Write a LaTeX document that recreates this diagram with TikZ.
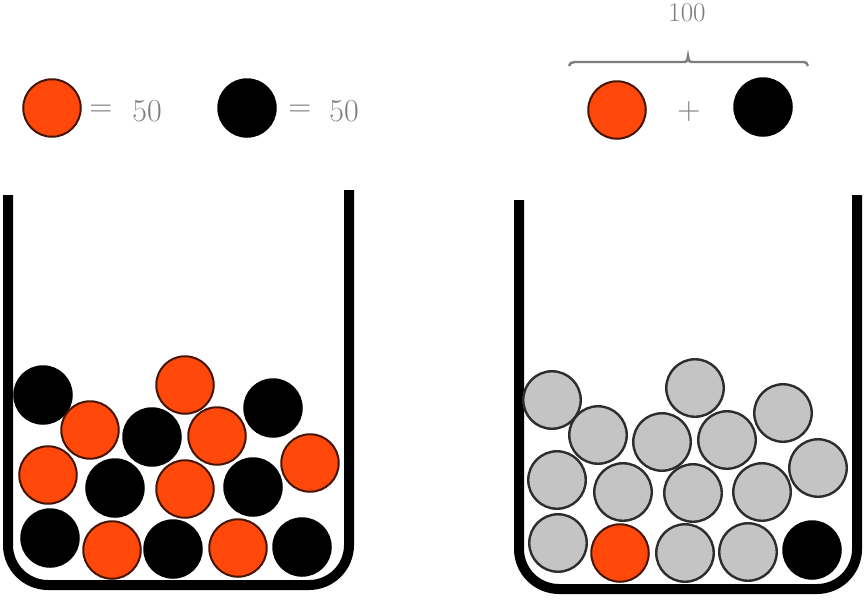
\documentclass[tikz,border=0pt]{standalone}
\usepackage{xcolor}
\definecolor{ballorange}{RGB}{255,72,10}
\definecolor{ballrim}{RGB}{70,20,5}
\definecolor{ballgray}{RGB}{196,196,196}
\definecolor{grayrim}{RGB}{45,45,45}
\definecolor{txtgray}{RGB}{125,125,125}
\begin{document}
\begin{tikzpicture}[x=1pt,y=-1pt,
  ball/.style={circle,minimum size=57.5pt,inner sep=0pt,line width=2pt},
  ob/.style={ball,fill=ballorange,draw=ballrim},
  bb/.style={ball,fill=black,draw=black},
  gb/.style={ball,fill=ballgray,draw=grayrim,line width=2.4pt},
  lbl/.style={text=txtgray,inner sep=0pt,font=\fontsize{32}{38}\selectfont},
  wall/.style={line width=10pt,rounded corners=40pt}]
\useasboundingbox (0,0) rectangle (866,600);
% legend left
\node[ob] (lo) at (52,108) {};
\node[lbl] (leq1) at (101,111) {=};
\node[lbl] (l50a) at (147,111) {50};
\node[bb] (lb) at (247,108) {};
\node[lbl] (leq2) at (300,111) {=};
\node[lbl] (l50b) at (344,111) {50};
% legend right
\node[ob] (ro) at (617,110) {};
\node[lbl] (plus) at (689,112) {+};
\node[bb] (rb) at (763,107) {};
\node[lbl,font=\fontsize{27}{32}\selectfont] (hundred) at (687,13) {100};
\coordinate (brl) at (569,66);
\coordinate (brr) at (808,66);
\coordinate (brm) at (688,56);
\draw[txtgray,line width=2.4pt] (brl) .. controls (570,63) .. (575,62) -- (682,62) .. controls (687,62) .. (brm) .. controls (689,62) .. (694,62) -- (801,62) .. controls (806,62) .. (brr);
% containers
\draw[wall] (8,195) -- (8,585) -- (349,585) -- (349,190);
\draw[wall] (519,200) -- (519,589) -- (857,589) -- (857,195);
% left balls
\node[bb] (a1) at (43,395) {};
\node[ob] (a2) at (185,385) {};
\node[bb] (a3) at (273,408) {};
\node[ob] (a4) at (90,430) {};
\node[bb] (a5) at (152,437) {};
\node[ob] (a6) at (217,436) {};
\node[ob] (a7) at (310,463) {};
\node[ob] (a8) at (48,475) {};
\node[bb] (a9) at (115,488) {};
\node[ob] (a10) at (185,489) {};
\node[bb] (a11) at (253,487) {};
\node[bb] (a12) at (50,538) {};
\node[ob] (a13) at (112,550) {};
\node[bb] (a14) at (173,549) {};
\node[ob] (a15) at (238,548) {};
\node[bb] (a16) at (302,547) {};
% right balls
\node[gb] (b1) at (552,400) {};
\node[gb] (b2) at (695,388) {};
\node[gb] (b3) at (783,413) {};
\node[gb] (b4) at (598,435) {};
\node[gb] (b5) at (662,442) {};
\node[gb] (b6) at (727,440) {};
\node[gb] (b7) at (818,468) {};
\node[gb] (b8) at (557,480) {};
\node[gb] (b9) at (623,492) {};
\node[gb] (b10) at (693,493) {};
\node[gb] (b11) at (762,492) {};
\node[gb] (b12) at (558,543) {};
\node[ob] (b13) at (620,553) {};
\node[gb] (b14) at (685,553) {};
\node[gb] (b15) at (748,552) {};
\node[bb] (b16) at (812,550) {};
\end{tikzpicture}
\end{document}
